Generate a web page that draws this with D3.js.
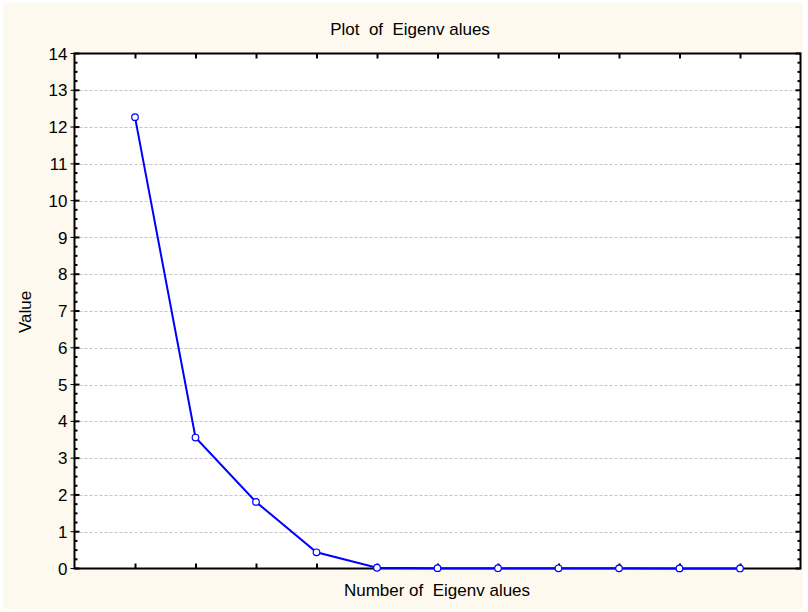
<!DOCTYPE html>
<html><head><meta charset="utf-8">
<script src="https://cdn.jsdelivr.net/npm/d3@7"></script>
<style>body{margin:0;background:#fff;}svg{display:block;font-family:"Liberation Sans",Arial,sans-serif;}</style>
</head><body><svg id="c" width="808" height="612"></svg>
<script>
const eigenNumbers = [1,2,3,4,5,6,7,8,9,10,11];
const eigenValues = [12.27,3.56,1.81,0.44,0.02,0.01,0.008,0.006,0.004,0.003,0.002];
const yTickValues = d3.range(0,15,1);
const chartTitle = "Plot  of  Eigenv alues";
const xTitle = "Number of  Eigenv alues";
const yTitle = "Value";

const svg = d3.select("#c");
svg.append("rect").attr("x",3).attr("y",3).attr("width",800).attr("height",606).attr("fill","#fdf9ee");
const L=74.5,R=800.5,T=53.5,B=568.5;
const x = d3.scaleLinear().domain([0,12]).range([L,R]);
const y = d3.scaleLinear().domain([0,14]).range([B,T]);
svg.append("rect").attr("x",L).attr("y",T).attr("width",R-L).attr("height",B-T).attr("fill","#fff");
// grid
svg.append("g").selectAll("line").data(yTickValues.filter(v=>v>0&&v<14)).join("line")
 .attr("x1",L).attr("x2",R).attr("y1",d=>Math.round(y(d))+0.5).attr("y2",d=>Math.round(y(d))+0.5)
 .attr("stroke","#c4c4c4").attr("stroke-dasharray","3,2").attr("stroke-width",1);
const minor = d3.range(0,14.01,0.25);
// left axis
const gl = svg.append("g").attr("transform",`translate(${L},0)`);
gl.call(d3.axisLeft(y).tickValues(minor).tickSize(0).tickFormat(""));
gl.selectAll("line.mn").data(minor).join("line").attr("class","mn")
 .attr("x1",0).attr("x2",d=>Number.isInteger(d)?5:3).attr("y1",d=>y(d)).attr("y2",d=>y(d)).attr("stroke","#000").attr("stroke-width",2);
gl.selectAll("line.mj").data(yTickValues).join("line").attr("class","mj")
 .attr("x1",-4).attr("x2",0).attr("y1",d=>y(d)).attr("y2",d=>y(d)).attr("stroke","#000").attr("stroke-width",1);
gl.selectAll("text.lb").data(yTickValues).join("text").attr("class","lb")
 .attr("x",-7).attr("y",d=>y(d)).attr("dy","0.36em").attr("text-anchor","end")
 .attr("font-size",17).attr("fill","#000").text(d=>d);
gl.select(".domain").remove();
// right axis
const gr = svg.append("g").attr("transform",`translate(${R},0)`);
gr.selectAll("line").data(minor).join("line")
 .attr("x1",0).attr("x2",d=>Number.isInteger(d)?-5:-3).attr("y1",d=>y(d)).attr("y2",d=>y(d)).attr("stroke","#000").attr("stroke-width",2);
// top & bottom ticks
const gt = svg.append("g").attr("transform",`translate(0,${T})`);
gt.call(d3.axisTop(x).tickValues(eigenNumbers).tickSize(-5).tickFormat(""));
gt.select(".domain").remove();
gt.selectAll(".tick line").attr("stroke-width",2);
const gb = svg.append("g").attr("transform",`translate(0,${B})`);
gb.call(d3.axisBottom(x).tickValues(eigenNumbers).tickSize(-5).tickFormat(""));
gb.select(".domain").remove();
gb.selectAll(".tick line").attr("stroke-width",2);
// frame
svg.append("rect").attr("x",L).attr("y",T).attr("width",R-L).attr("height",B-T).attr("fill","none").attr("stroke","#000").attr("stroke-width",2);
// line
const data = eigenNumbers.map((n,i)=>({n,v:eigenValues[i]}));
svg.append("path").datum(data).attr("fill","none").attr("stroke","#0000ff").attr("stroke-width",2)
 .attr("d",d3.line().x(d=>x(d.n)).y(d=>y(d.v)));
svg.append("g").selectAll("circle").data(data).join("circle")
 .attr("cx",d=>x(d.n)).attr("cy",d=>y(d.v)).attr("r",3.3).attr("fill","#fff").attr("stroke","#0000ff").attr("stroke-width",1.2);
// titles
svg.append("text").attr("x",410).attr("y",35).attr("text-anchor","middle").attr("font-size",17).attr("fill","#000").text(chartTitle).attr("xml:space","preserve");
svg.append("text").attr("x",437).attr("y",596).attr("text-anchor","middle").attr("font-size",17).attr("fill","#000").text(xTitle).attr("xml:space","preserve");
svg.append("text").attr("transform","translate(31,312) rotate(-90)").attr("text-anchor","middle").attr("font-size",17).attr("fill","#000").text(yTitle);
</script></body></html>
